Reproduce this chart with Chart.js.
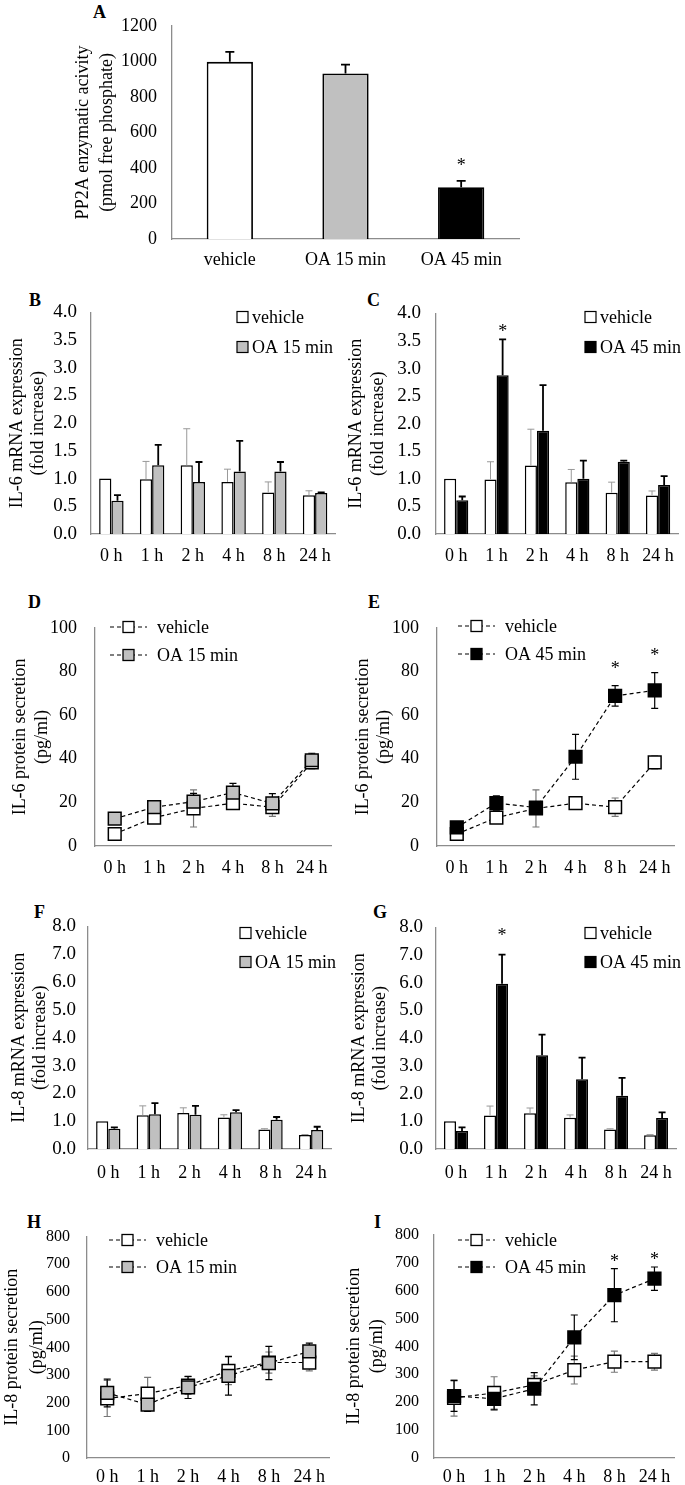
<!DOCTYPE html>
<html>
<head>
<meta charset="utf-8">
<script src="https://cdn.jsdelivr.net/npm/chart.js@4.4.1/dist/chart.umd.min.js"></script>
<style>
  body { margin: 0; background: #fff; width: 685px; height: 1485px; position: relative; overflow: hidden; font-family: "Liberation Serif", serif; }
  canvas { position: absolute; }
  .tag { position: absolute; font-weight: bold; font-size: 18px; line-height: 18px; }
</style>
</head>
<body>
<div class="tag" style="left:93px;top:3px">A</div>
<div class="tag" style="left:29px;top:291px">B</div>
<div class="tag" style="left:367px;top:291px">C</div>
<div class="tag" style="left:28px;top:593px">D</div>
<div class="tag" style="left:368px;top:593px">E</div>
<div class="tag" style="left:34px;top:903px">F</div>
<div class="tag" style="left:373px;top:903px">G</div>
<div class="tag" style="left:27px;top:1213px">H</div>
<div class="tag" style="left:374px;top:1213px">I</div>
<script>
const hours = ["0 h", "1 h", "2 h", "4 h", "8 h", "24 h"];

// A: PP2A activity
const ppLabels = ["vehicle", "OA 15 min", "OA 45 min"];
const ppValues = [997, 932, 291];
const ppErrors = [56, 50, 36];
const ppStars = [false, false, true];

// B/C: IL-6 mRNA
const il6mVehicle = [1.00, 0.99, 1.24, 0.94, 0.75, 0.70];
const il6mVehicleErr = [0, 0.32, 0.66, 0.23, 0.19, 0.08];
const il6mOA15 = [0.60, 1.24, 0.94, 1.13, 1.13, 0.74];
const il6mOA15Err = [0.10, 0.37, 0.36, 0.55, 0.17, 0.01];
const il6mOA45 = [0.61, 2.88, 1.87, 1.00, 1.31, 0.89];
const il6mOA45Err = [0.07, 0.65, 0.83, 0.33, 0.02, 0.16];
const il6mStars = [false, true, false, false, false, false];

// D/E: IL-6 protein
const il6pVehicle = [5.5, 13.0, 17.2, 19.6, 17.8, 38.3];
const il6pVehicleErr = [1.0, 1.5, 8.5, 1.5, 4.2, 3.0];
const il6pOA15 = [12.5, 17.8, 20.3, 24.5, 19.5, 39.3];
const il6pOA15Err = [1.0, 1.5, 3.8, 4.2, 4.5, 3.2];
const il6pOA45 = [8.5, 19.7, 17.6, 40.9, 68.8, 71.3];
const il6pOA45Err = [1.0, 3.3, 2.5, 10.3, 4.7, 8.2];
const il6pStars = [false, false, false, false, true, true];

// F/G: IL-8 mRNA
const il8mVehicle = [1.00, 1.21, 1.29, 1.13, 0.70, 0.50];
const il8mVehicleErr = [0, 0.34, 0.19, 0.10, 0.03, 0.02];
const il8mOA15 = [0.73, 1.25, 1.23, 1.32, 1.05, 0.68];
const il8mOA15Err = [0.05, 0.40, 0.32, 0.08, 0.10, 0.12];
const il8mOA45 = [0.65, 5.97, 3.38, 2.52, 1.92, 1.12];
const il8mOA45Err = [0.13, 1.05, 0.75, 0.78, 0.65, 0.20];
const il8mStars = [false, true, false, false, false, false];

// H/I: IL-8 protein
const il8pVehicle = [215, 233, 262, 315, 345, 345];
const il8pVehicleErr = [65, 58, 32, 50, 38, 30];
const il8pOA15 = [235, 193, 255, 297, 343, 385];
const il8pOA15Err = [50, 25, 40, 70, 60, 30];
const il8pOA45 = [222, 212, 248, 432, 583, 642];
const il8pOA45Err = [55, 40, 58, 80, 95, 42];
const il8pStars = [false, false, false, false, true, true];

const AXIS = "#8c8c8c";
const GREY = "#c0c0c0";
const FONT = '"Liberation Serif", "Times New Roman", serif';

Chart.defaults.font.family = FONT;
Chart.defaults.color = "#000";

// error bars drawn from the data through the y scale
const errorBars = {
  id: "errorBars",
  beforeDatasetsDraw(chart, args, o) { if (o.both) drawErrors(chart, o); },
  afterDatasetsDraw(chart, args, o) { if (!o.both) drawErrors(chart, o); },
};
function drawErrors(chart, o) {
  const ctx = chart.ctx;
  const y = chart.scales.y;
  chart.data.datasets.forEach((ds, di) => {
    if (!ds.errors) return;
    chart.getDatasetMeta(di).data.forEach((el, i) => {
      const e = ds.errors[i];
      if (!e) return;
      const v = ds.data[i];
      const top = y.getPixelForValue(v + e);
      const bot = o.both ? y.getPixelForValue(v - e) : el.y;
      ctx.save();
      ctx.strokeStyle = ds.errColor;
      ctx.lineWidth = ds.errWidth;
      ctx.beginPath();
      ctx.moveTo(el.x, bot);
      ctx.lineTo(el.x, top);
      ctx.moveTo(el.x - o.cap, top);
      ctx.lineTo(el.x + o.cap, top);
      if (o.both) {
        ctx.moveTo(el.x - o.cap, bot);
        ctx.lineTo(el.x + o.cap, bot);
      }
      ctx.stroke();
      ctx.restore();
    });
  });
}

const stars = {
  id: "stars",
  afterDatasetsDraw(chart, args, o) {
    const ctx = chart.ctx;
    const y = chart.scales.y;
    chart.data.datasets.forEach((ds, di) => {
      if (!ds.stars) return;
      chart.getDatasetMeta(di).data.forEach((el, i) => {
        if (!ds.stars[i]) return;
        const top = y.getPixelForValue(ds.data[i] + (ds.errors ? ds.errors[i] : 0));
        ctx.save();
        ctx.font = "18px " + FONT;
        ctx.fillStyle = "#000";
        ctx.textAlign = "center";
        ctx.textBaseline = "alphabetic";
        ctx.fillText("*", el.x, top - o.gap + 8.5);
        ctx.restore();
      });
    });
  },
};

const key = {
  id: "key",
  afterDraw(chart, args, o) {
    if (!o.kind) return;
    const ctx = chart.ctx;
    ctx.save();
    ctx.font = "18px " + FONT;
    ctx.textBaseline = "middle";
    chart.data.datasets.forEach((ds, i) => {
      const x = o.x - o.origin[0];
      const y = o.y + i * o.dy - o.origin[1];
      const fill = ds.pointBackgroundColor || ds.backgroundColor;
      ctx.strokeStyle = "#000";
      if (o.kind === "line") {
        ctx.lineWidth = 1.2;
        ctx.setLineDash([4, 3]);
        ctx.beginPath();
        ctx.moveTo(x, y);
        ctx.lineTo(x + 37, y);
        ctx.stroke();
        ctx.setLineDash([]);
        ctx.fillStyle = fill;
        ctx.fillRect(x + 13, y - 5.5, 11, 11);
        ctx.lineWidth = 1.3;
        ctx.strokeRect(x + 13, y - 5.5, 11, 11);
        ctx.fillStyle = "#000";
        ctx.fillText(ds.label, x + 47, y + 1);
      } else {
        ctx.fillStyle = fill;
        ctx.fillRect(x, y - 5.5, 11, 11);
        ctx.lineWidth = 1.2;
        ctx.strokeRect(x, y - 5.5, 11, 11);
        ctx.fillStyle = "#000";
        ctx.fillText(ds.label, x + 15, y + 1);
      }
    });
    ctx.restore();
  },
};

function bars(label, values, errors, fill, errColor, errWidth, starFlags) {
  return {
    label, data: values, errors, errColor, errWidth, stars: starFlags,
    backgroundColor: fill, borderColor: "#000", borderWidth: 1.5,
    barPercentage: 1, categoryPercentage: 0.6,
  };
}

function line(label, values, errors, fill, errColor, order, starFlags) {
  return {
    label, data: values, errors, errColor, errWidth: 1.2, stars: starFlags, order,
    borderColor: "#000", borderWidth: 1.2, borderDash: [4, 3], fill: false,
    pointStyle: "rect", pointRadius: 9, pointBackgroundColor: fill,
    pointBorderColor: "#000", pointBorderWidth: 1.5,
  };
}

function panel(p) {
  const cv = document.createElement("canvas");
  const top = Math.max(0, p.area.t - 14);
  const padTop = p.area.t - top;
  const width = p.area.r + 2 - p.left;
  const height = p.area.b + 40 - top;
  cv.width = width;
  cv.height = height;
  cv.style.left = p.left + "px";
  cv.style.top = top + "px";
  document.body.appendChild(cv);
  const yW = p.area.l - p.left;
  const titlePad = p.titleX - p.left - p.titleGap / 2;

  return new Chart(cv, {
    type: p.type,
    data: { labels: p.labels, datasets: p.datasets },
    options: {
      responsive: false,
      animation: false,
      devicePixelRatio: 1,
      layout: { padding: { top: padTop, right: 2, left: 0, bottom: 0 } },
      plugins: {
        legend: { display: false },
        tooltip: { enabled: false },
        errorBars: { both: p.type === "line", cap: p.cap || 3.5 },
        stars: { gap: p.starGap || 12 },
        key: p.key ? Object.assign({ origin: [p.left, top] }, p.key) : {},
      },
      scales: {
        x: {
          offset: true,
          grid: { display: false, drawTicks: false },
          border: { color: AXIS, width: 1.3 },
          ticks: { font: { size: 18 }, padding: p.xPad, maxRotation: 0, autoSkip: false, color: "#000" },
          afterFit(s) { s.height = 40; },
        },
        y: {
          min: 0,
          max: p.max,
          grid: { display: false, drawTicks: false },
          border: { color: AXIS, width: 1.3 },
          ticks: {
            stepSize: p.step,
            font: { size: p.tickSize || 18 },
            padding: p.yPad,
            color: "#000",
            callback: v => v.toFixed(p.digits),
          },
          title: {
            display: true,
            text: p.title,
            color: "#000",
            font: { size: 18, lineHeight: p.titleGap / 18 },
            padding: { top: titlePad, bottom: 0 },
          },
          afterFit(s) { s.width = yW; },
        },
      },
    },
    plugins: [errorBars, stars, key],
  });
}

// A
panel({
  type: "bar", left: 0, area: { l: 172, t: 7, r: 519, b: 239 },
  labels: ppLabels,
  datasets: [{
    label: "PP2A", data: ppValues, errors: ppErrors, stars: ppStars,
    errColor: "#000", errWidth: 1.8,
    backgroundColor: ["#fff", GREY, "#000"], borderColor: "#000", borderWidth: 1.8,
    barPercentage: 1, categoryPercentage: 0.4,
  }],
  max: 1200, step: 200, digits: 0, yPad: 15, xPad: 10,
  title: ["PP2A enzymatic acivity", "(pmol free phosphate)"], titleX: 83, titleGap: 24,
  cap: 4.5, starGap: 18,
});

// B
panel({
  type: "bar", left: 0, area: { l: 91, t: 301, r: 340, b: 534 },
  labels: hours,
  datasets: [
    bars("vehicle", il6mVehicle, il6mVehicleErr, "#fff", "#999", 1),
    bars("OA 15 min", il6mOA15, il6mOA15Err, GREY, "#000", 1.8),
  ],
  max: 4, step: 0.5, digits: 1, yPad: 14, tickSize: 19, xPad: 11,
  title: ["IL-6 mRNA expression", "(fold increase)"], titleX: 17, titleGap: 21,
  key: { kind: "box", x: 237, y: 317, dy: 30 },
});

// C
panel({
  type: "bar", left: 342, area: { l: 436, t: 301, r: 683, b: 534 },
  labels: hours,
  datasets: [
    bars("vehicle", il6mVehicle, il6mVehicleErr, "#fff", "#999", 1),
    bars("OA 45 min", il6mOA45, il6mOA45Err, "#000", "#000", 1.8, il6mStars),
  ],
  max: 4, step: 0.5, digits: 1, yPad: 15, tickSize: 19, xPad: 11,
  title: ["IL-6 mRNA expression", "(fold increase)"], titleX: 356, titleGap: 22,
  key: { kind: "box", x: 585, y: 317, dy: 30 }, starGap: 11,
});

// D
panel({
  type: "line", left: 0, area: { l: 95, t: 613, r: 340, b: 846 },
  labels: hours,
  datasets: [
    line("vehicle", il6pVehicle, il6pVehicleErr, "#fff", "#777", 2),
    line("OA 15 min", il6pOA15, il6pOA15Err, GREY, "#000", 1),
  ],
  max: 100, step: 10, digits: 0, yPad: 18, xPad: 11,
  title: ["IL-6 protein secretion", "(pg/ml)"], titleX: 20, titleGap: 22,
  key: { kind: "line", x: 110, y: 627, dy: 28 },
});

// E
panel({
  type: "line", left: 342, area: { l: 437, t: 613, r: 683, b: 846 },
  labels: hours,
  datasets: [
    line("vehicle", il6pVehicle, il6pVehicleErr, "#fff", "#777", 2),
    line("OA 45 min", il6pOA45, il6pOA45Err, "#000", "#000", 1, il6pStars),
  ],
  max: 100, step: 10, digits: 0, yPad: 18, xPad: 11,
  title: ["IL-6 protein secretion", "(pg/ml)"], titleX: 363, titleGap: 21,
  key: { kind: "line", x: 458, y: 626, dy: 28 }, starGap: 20,
});

// F
panel({
  type: "bar", left: 0, area: { l: 88, t: 917, r: 338, b: 1149 },
  labels: hours,
  datasets: [
    bars("vehicle", il8mVehicle, il8mVehicleErr, "#fff", "#999", 1),
    bars("OA 15 min", il8mOA15, il8mOA15Err, GREY, "#000", 1.8),
  ],
  max: 8, step: 1, digits: 1, yPad: 12, tickSize: 19, xPad: 13,
  title: ["IL-8 mRNA expression", "(fold increase)"], titleX: 19, titleGap: 21,
  key: { kind: "box", x: 240, y: 933, dy: 29 },
});

// G
panel({
  type: "bar", left: 342, area: { l: 436, t: 917, r: 683, b: 1149 },
  labels: hours,
  datasets: [
    bars("vehicle", il8mVehicle, il8mVehicleErr, "#fff", "#999", 1),
    bars("OA 45 min", il8mOA45, il8mOA45Err, "#000", "#000", 1.8, il8mStars),
  ],
  max: 8, step: 1, digits: 1, yPad: 13, tickSize: 19, xPad: 13,
  title: ["IL-8 mRNA expression", "(fold increase)"], titleX: 359, titleGap: 21,
  key: { kind: "box", x: 585, y: 933, dy: 29 }, starGap: 22,
});

// H
panel({
  type: "line", left: 0, area: { l: 87, t: 1224, r: 338, b: 1458 },
  labels: hours,
  datasets: [
    line("vehicle", il8pVehicle, il8pVehicleErr, "#fff", "#777", 2),
    line("OA 15 min", il8pOA15, il8pOA15Err, GREY, "#000", 1),
  ],
  max: 800, step: 100, digits: 0, yPad: 17, tickSize: 16, xPad: 8,
  title: ["IL-8 protein secretion", "(pg/ml)"], titleX: 12, titleGap: 25,
  key: { kind: "line", x: 109, y: 1240, dy: 27 },
});

// I
panel({
  type: "line", left: 342, area: { l: 434, t: 1224, r: 683, b: 1458 },
  labels: hours,
  datasets: [
    line("vehicle", il8pVehicle, il8pVehicleErr, "#fff", "#777", 2),
    line("OA 45 min", il8pOA45, il8pOA45Err, "#000", "#000", 1, il8pStars),
  ],
  max: 800, step: 100, digits: 0, yPad: 15, tickSize: 16, xPad: 8,
  title: ["IL-8 protein secretion", "(pg/ml)"], titleX: 354, titleGap: 23,
  key: { kind: "line", x: 458, y: 1240, dy: 27 }, starGap: 10,
});
</script>
</body>
</html>
